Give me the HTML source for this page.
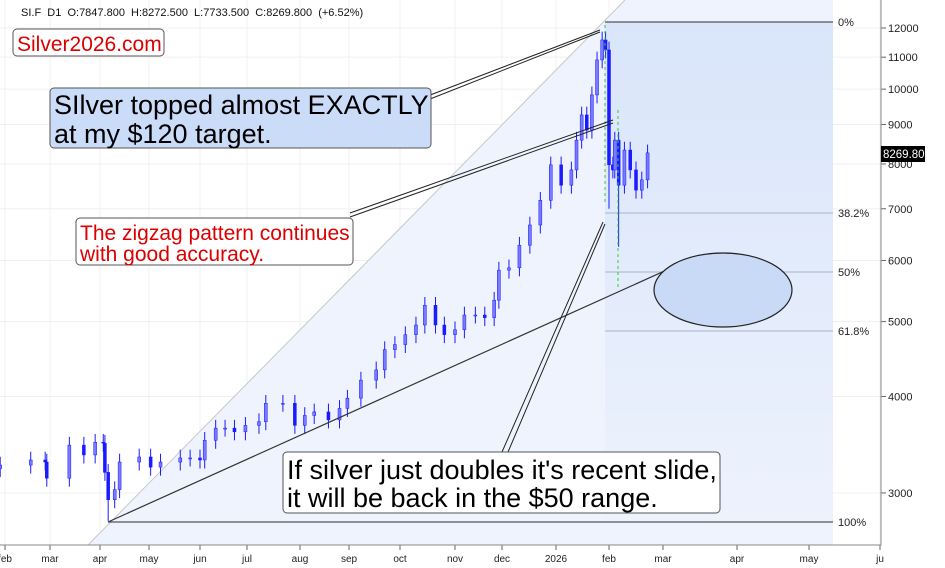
<!DOCTYPE html>
<html><head><meta charset="utf-8"><style>
html,body{margin:0;padding:0;background:#fff;}
svg{display:block;font-family:"Liberation Sans",sans-serif;}
</style></head><body>
<svg id="chart" width="945" height="568" viewBox="0 0 945 568" xmlns="http://www.w3.org/2000/svg">
<defs><linearGradient id="fz" x1="0" y1="0" x2="0" y2="1"><stop offset="0" stop-color="#d9e5fa"/><stop offset="1" stop-color="#edf2fd"/></linearGradient></defs>
<g id="grid"></g>
<polygon points="88,545 625,0 833,0 833,545" fill="#eef3fd"/>
<rect x="605" y="22" width="228" height="500" fill="url(#fz)"/>
<line x1="88" y1="545" x2="625" y2="0" stroke="#c8c8c8" stroke-width="1"/>
<g id="fib"></g>
<g id="candles"></g>
<line x1="605" y1="25" x2="605" y2="205" stroke="#3c3" stroke-dasharray="3,3"/>
<line x1="618" y1="110" x2="618" y2="290" stroke="#3c3" stroke-dasharray="3,3"/>
<line x1="108" y1="522" x2="700" y2="255" stroke="#333" stroke-width="1.2"/>
<ellipse cx="723" cy="290" rx="69" ry="37" fill="#c8daf6" stroke="#222" stroke-width="1.2"/>
<g stroke="#222" stroke-width="1" fill="none">
<path d="M425,97 L600,30 M425,101 L600,32"/>
<path d="M350,213 L613,120 M350,217 L613,123"/>
<path d="M502,452 L603,222 M508,452 L605,224"/>
</g>
<g id="axes"></g>
<text x="21" y="16" font-size="11" fill="#111" xml:space="preserve">SI.F  D1  O:7847.800  H:8272.500  L:7733.500  C:8269.800  (+6.52%)</text>
<rect x="13" y="29" width="151" height="27" rx="4" fill="#fff" stroke="#555"/>
<text x="17" y="51" font-size="21" fill="#d00">Silver2026.com</text>
<rect x="50" y="88" width="381" height="60" rx="4" fill="#cbdcf8" stroke="#555"/>
<text font-size="27" fill="#000"><tspan x="54" y="114">SIlver topped almost EXACTLY</tspan><tspan x="54" y="143">at my $120 target.</tspan></text>
<rect x="76" y="218" width="277" height="47" rx="4" fill="#fff" stroke="#555"/>
<text font-size="21" fill="#d00"><tspan x="80" y="240">The zigzag pattern continues</tspan><tspan x="80" y="261">with good accuracy.</tspan></text>
<rect x="283" y="452" width="437" height="61" rx="4" fill="#fff" stroke="#555"/>
<text font-size="27" fill="#000"><tspan x="287" y="479">If silver just doubles it's recent slide,</tspan><tspan x="287" y="507">it will be back in the $50 range.</tspan></text>
<rect x="881" y="146" width="44" height="16" fill="#000"/>
<text x="883" y="158" font-size="11.5" fill="#fff">8269.80</text>
</svg>
<script>
const days=[28,47,56,57,71,80,87,92,93,95,99,102,114,121,127,139,145,151,154,161,167,173,180,188,192,202,209,215,221,230,237,242,250,259,264,270,276,282,287,293,298,304,310,317,323,329,332,338,344,350,356,362,368,374,377,380,383,386,389,392,394,396,398,399,401,404,407,410,413,416];
const closes=[3260,3310,3290,3135,3460,3360,3490,3480,3190,2940,3030,3290,3340,3240,3290,3330,3330,3310,3510,3640,3640,3600,3670,3710,3920,3920,3670,3780,3820,3730,3860,3980,4200,4330,4600,4670,4810,4950,5250,4950,4810,4880,5100,5100,5060,5330,5830,5870,6280,6670,7180,7980,7510,7860,8590,9260,8850,9830,10910,11580,11240,7980,7860,8590,7510,8340,7860,7400,7630,8270];
const lowDays=[95,396,401];
const lowVals=[2760,7000,6250];
const monthLabels=["feb","mar","apr","may","jun","jul","aug","sep","oct","nov","dec","2026","feb","mar","apr","may","ju"];
const monthDays=[31,59,90,120,151,181,212,243,273,304,334,365,396,424,455,485,516];
const monthX=[5,50,100,149,200,247,300,349,400,455,502,556,609,663,737,809,880];
const priceTicks=[3000,4000,5000,6000,7000,8000,9000,10000,11000,12000];
const fibLabels=["0%","38.2%","50%","61.8%","100%"];
const fibRatios=[0,0.382,0.5,0.618,1];
const NS="http://www.w3.org/2000/svg";
function yScale(p){return 28-335.4*Math.log(p/12000);}
function xScale(d){
  if(d<=monthDays[0])return monthX[0]+(d-monthDays[0])*1.6;
  for(let i=0;i<monthDays.length-1;i++){if(d<=monthDays[i+1]){const t=(d-monthDays[i])/(monthDays[i+1]-monthDays[i]);return monthX[i]+t*(monthX[i+1]-monthX[i]);}}
  return monthX[monthX.length-1];
}
function mk(tag,attrs,parent){const e=document.createElementNS(NS,tag);for(const k in attrs)e.setAttribute(k,attrs[k]);parent.appendChild(e);return e;}
const grid=document.getElementById('grid'),axes=document.getElementById('axes'),cg=document.getElementById('candles'),fib=document.getElementById('fib');
monthX.forEach((x,i)=>{
  const g=mk('line',{x1:x,y1:0,x2:x,y2:545,stroke:'#f0f0f0'},grid);
  
  
  const t=mk('line',{x1:x,y1:545,x2:x,y2:550,stroke:'#666'},axes);
  
  
  const l=mk('text',{x:x,y:562,'font-size':10,'text-anchor':'middle',fill:'#222'},axes);
  l.textContent=monthLabels[i];
  
  
});
priceTicks.forEach(p=>{
  const y=yScale(p);
  const g=mk('line',{x1:0,y1:y,x2:881,y2:y,stroke:'#f0f0f0'},grid);
  
  
  const t=mk('line',{x1:881,y1:y,x2:886,y2:y,stroke:'#666'},axes);
  
  
  const l=mk('text',{x:888,y:y+4,'font-size':11,fill:'#222'},axes);
  l.textContent=String(p);
  
  
});
const ax=mk('path',{d:'M0,545 L881,545 L881,0',stroke:'#888',fill:'none'},axes);


const fy0=22,fy1=522;
fibRatios.forEach((r,i)=>{
  const y=fy0+r*(fy1-fy0);
  const x0=(r===1)?108:605;
  const ln=mk('line',{x1:x0,y1:y,x2:833,y2:y,stroke:(r===0||r===1)?'#555':'#bcc6d6','stroke-width':(r===0||r===1)?1.2:1.5},fib);
  
  
  const t=mk('text',{x:838,y:y+4,'font-size':11,fill:'#222'},fib);
  t.textContent=fibLabels[i];
  
  
});
for(let i=0;i<closes.length;i++){
  const o=i>0?closes[i-1]:closes[i]*0.99,c=closes[i];
  let hi=Math.max(o,c)*1.025,lo=Math.min(o,c)*0.975;
  const li=lowDays.indexOf(days[i]);if(li>=0)lo=lowVals[li];
  const x=xScale(days[i]);
  const w=mk('line',{x1:x,y1:yScale(hi),x2:x,y2:yScale(lo),stroke:'#1a1aff','stroke-width':1},cg);
  
  
  const top=yScale(Math.max(o,c)),bot=yScale(Math.min(o,c));
  const b=mk('rect',{x:x-1.5,y:top,width:3,height:Math.max(1,bot-top),fill:c>=o?'#7a7aff':'#1a1aff',stroke:'#1a1aff','stroke-width':0.5},cg);
  
  
}
</script>
</body></html>
